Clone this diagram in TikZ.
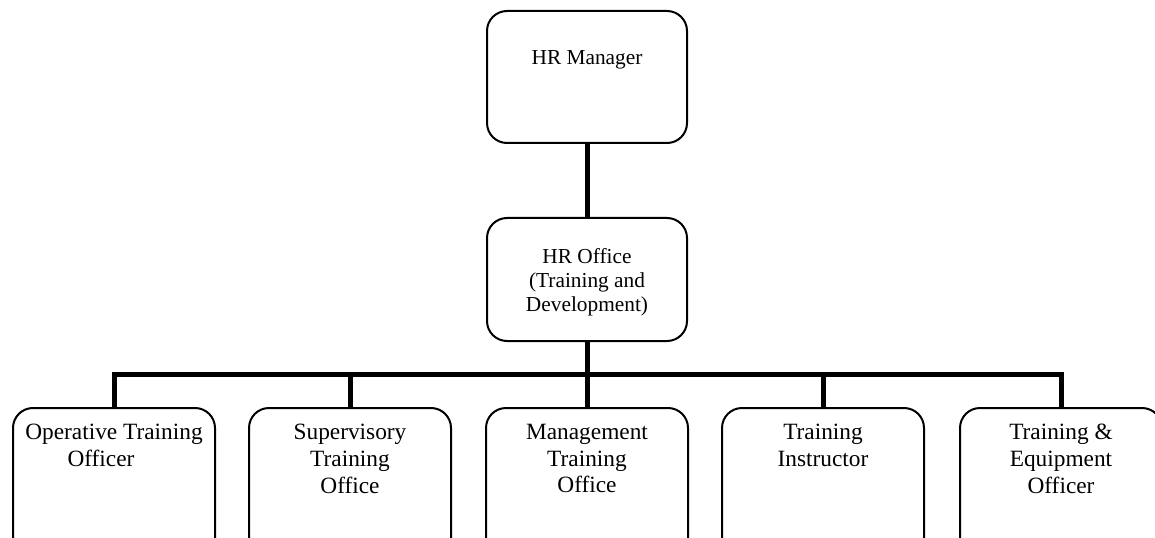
\documentclass[tikz,border=0pt]{standalone}
\usepackage{fontspec}
\setmainfont{Liberation Serif}
\begin{document}
\begin{tikzpicture}[x=0.75pt,y=-0.75pt,
  box/.style={draw=black,line width=1.5pt,rounded corners=15pt,minimum width=150pt,inner sep=0pt},
  lowbox/.style={box,minimum width=151.5pt,minimum height=144pt},
  conn/.style={line width=3.75pt},
  txt/.style={align=center,inner sep=0pt,anchor=north},
  bigtxt/.style={txt,font=\fontsize{16}{18}\selectfont},
  lowtxt/.style={txt,font=\fontsize{17.5}{20}\selectfont}]
\useasboundingbox (0,0) rectangle (1155,538);
\clip (0,0) rectangle (1155,538);
% boxes
\node[box,minimum height=99pt] (mgr) at (587,77) {};
\node[box,minimum height=92.25pt] (off) at (587,279.5) {};
\node[lowbox] (b1) at (114,504) {};
\node[lowbox] (b2) at (350,504) {};
\node[lowbox] (b3) at (587,504) {};
\node[lowbox] (b4) at (823,504) {};
\node[lowbox] (b5) at (1061,504) {};
% texts
\node[bigtxt] (tmgr) at (587,50) {HR Manager};
\node[bigtxt] (toff) at (587,248) {HR Office\\(Training and\\Development)};
\node[lowtxt] (t1) at (114,424) {Operative Training\\Officer\hspace*{19.5pt}};
\node[lowtxt] (t2) at (350,424) {Supervisory\\Training\\Office};
\node[lowtxt] (t3) at (587,424) {Management\\Training\\Office};
\node[lowtxt] (t4) at (823,424) {Training\\Instructor};
\node[lowtxt] (t5) at (1061,424) {Training \&\\Equipment\\Officer};
% connectors
\coordinate (bar) at (587,374);
\draw[conn] (mgr.south) -- (off.north);
\draw[conn] (off.south) -- (bar);
\draw[conn] (b1.north) |- (bar) -| (b5.north);
\draw[conn] (b2.north) -- (b2.north |- bar);
\draw[conn] (b3.north) -- (b3.north |- bar);
\draw[conn] (b4.north) -- (b4.north |- bar);
\end{tikzpicture}
\end{document}
